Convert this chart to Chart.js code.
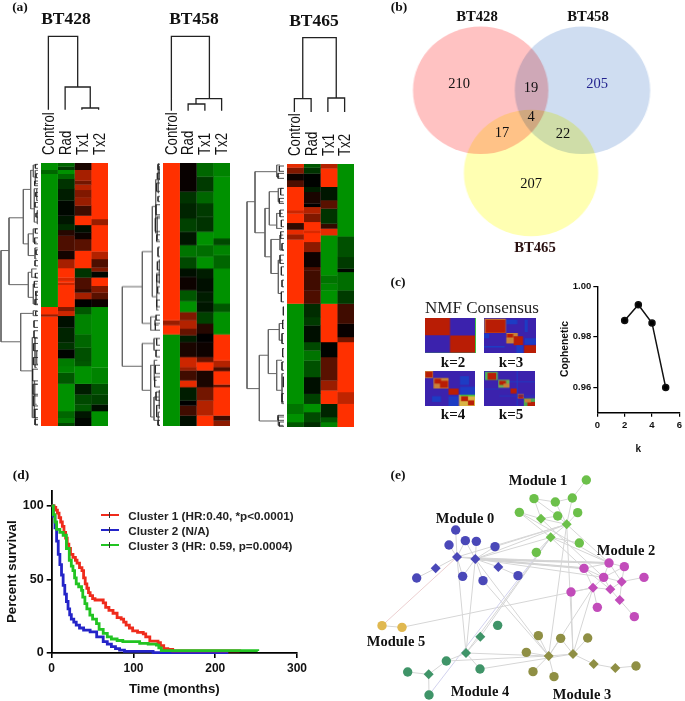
<!DOCTYPE html>
<html><head><meta charset="utf-8">
<script src="https://cdn.jsdelivr.net/npm/chart.js@4"></script>
<style>
html,body{margin:0;padding:0;background:#fff;overflow:hidden}
#page{position:relative;width:685px;height:701px;overflow:hidden;filter:blur(.35px)}
#page canvas{position:absolute;display:block}
.t{position:absolute;white-space:nowrap;transform:translate(-50%,-50%);line-height:1}
</style></head><body><div id="page"></div>
<script>
/* ---------- (a) heat map values, run-length: [row end, expression -1..1] ---------- */
const heatCols=['Control','Rad','Tx1','Tx2'];
const bt428Control=[[28,-1],[40,-.7],[438,-1],[460,1],[467,.6],[795,1]];
const bt428Rad=[[18,-.7],[28,-.4],[40,-1],[55,-.7],[85,-.35],[120,-.2],[165,-.05],[190,-.15],[208,-.3],[225,.15],[270,.3],[295,.08],[322,.65],[350,1],[360,.85],[365,1],[372,.8],[438,1],[450,.5],[465,.8],[500,-.1],[545,-.25],[565,-.35],[592,-.02],[615,-.85],[635,-.9],[668,-.6],[750,-1],[770,-.7],[785,-.85],[795,-.5]];
const bt428Tx1=[[28,.1],[60,.65],[72,.45],[88,.7],[110,.5],[135,.6],[165,.25],[193,1],[215,-.1],[235,.05],[270,.35],[322,1],[350,-.35],[385,.3],[395,.2],[415,.65],[438,0],[460,-.6],[520,-.9],[560,-.7],[600,-.55],[615,-.6],[668,-1],[700,-.2],[730,-.5],[750,-.6],[770,-.15],[795,-.05]];
const bt428Tx2=[[175,1],[193,.6],[272,1],[295,.7],[320,.3],[332,.5],[350,-.05],[375,1],[395,.5],[415,.35],[438,.05],[620,-1],[668,-.9],[700,-.55],[730,-.45],[750,-.1],[795,-1]];
const bt458Control=[[480,1],[495,.6],[522,1],[797,-1]];
const bt458Rad=[[95,.03],[130,-.35],[175,-.25],[215,-.45],[255,-.15],[290,-.8],[325,-.5],[350,-.1],[390,.05],[423,-.6],[455,-1],[480,.5],[505,.7],[525,.4],[545,-.2],[590,.1],[620,.8],[630,.6],[660,.25],[680,.9],[720,-.2],[735,0],[765,.25],[797,-.1]];
const bt458Tx1=[[50,-.7],[95,-.4],[130,-.7],[170,-.4],[215,-.35],[255,-1],[290,-.75],[325,-1],[355,-.2],[395,-.1],[425,-.2],[455,-.15],[490,-.45],[520,.15],[545,0],[590,.05],[605,.4],[630,1],[680,.1],[720,.45],[765,.7],[797,1]];
const bt458Tx2=[[50,-.9],[235,-1],[255,-.5],[285,-.9],[325,-.7],[430,-1],[455,-.6],[522,-1],[600,1],[620,.7],[632,.3],[672,1],[680,.4],[765,1],[780,.25],[797,.55]];
const bt465Control=[[22,.9],[40,.5],[60,.05],[80,.3],[150,1],[160,.8],[188,1],[208,.2],[222,.9],[238,.6],[430,1],[730,-1],[760,-.8],[785,-1],[800,-.6]];
const bt465Rad=[[22,-.6],[40,-.35],[80,-.02],[95,-.2],[130,.1],[140,0],[160,.7],[185,.5],[210,1],[218,.85],[245,1],[275,.55],[320,.05],[330,.3],[390,.25],[430,.3],[470,-.3],[495,-.4],[545,-.1],[570,-.5],[600,-.8],[650,-.55],[700,-.1],[730,-.45],[755,-1],[785,-.5],[800,-.3]];
const bt465Tx1=[[25,.7],[80,1],[120,-.15],[145,.35],[190,-.35],[205,.2],[225,.9],[345,-1],[370,-.8],[390,-.9],[430,-1],[545,1],[590,-.02],[660,.35],[690,.6],[730,1],[770,-.25],[785,-.6],[800,-.9]];
const bt465Tx2=[[228,-1],[290,-.55],[325,-.4],[335,-.05],[390,-.75],[430,-.4],[490,.25],[530,.03],[545,.45],[695,1],[730,.75],[800,1]];

/* column dendrograms: [height, colA, colB, heightA, heightB] */
const colTree428=[[230,.5,2.25,10,78],[78,1.5,3,10,15],[15,2.5,3.5,10,10]];
const colTree458=[[230,.5,2.77,7,43],[43,1.97,3.5,27,7],[27,1.5,2.5,7,7]];
const colTree465=[[226,1,3,43,45],[43,.5,1.5,3,3],[45,2.5,3.5,3,3]];
/* row dendrograms: [merge, rowA, rowB, mergeA, mergeB] */
const rowTree428=[[3,270,543,27,62],[27,172,372,70,85],[70,87,250,92,85],[92,30,145,100,103],[100,14,50,110,106],[106,30,70,116,114],[103,85,185,110,112],[110,85,120,116,118],[112,150,190,118,116],[85,220,285,100,105],[100,205,245,112,110],[105,262,295,113,110],[85,335,410,95,100],[95,325,350,110,112],[100,370,430,112,108],[108,395,430,118,116],[62,458,630,100,97],[100,450,465,112,112],[97,530,770,105,103],[105,530,620,112,110],[110,570,610,118,116],[103,660,770,104,106],[104,670,730,112,110],[106,745,790,112,114]];
const rowTree458=[[367,380,618,427,427],[427,275,490,457,452],[457,140,410,467,470],[467,60,220,475,472],[475,12,100,478,477],[478,20,60,482,484],[472,170,240,480,478],[470,340,450,478,476],[478,300,370,484,482],[452,470,510,465,465],[465,480,495,476,476],[427,550,690,462,452],[462,535,570,470,472],[452,615,770,463,462],[463,600,660,472,470],[462,710,780,478,475],[478,690,745,484,484],[475,755,795,482,482]];
const rowTree465=[[741,125,685,765,778],[765,35,218,830,795],[830,15,50,840,838],[795,145,290,808,813],[808,95,195,835,830],[813,238,340,840,835],[835,85,125,848,850],[830,160,205,848,846],[840,225,270,850,852],[835,300,400,848,846],[778,585,782,805,835],[805,508,640,838,830],[838,490,540,850,848],[830,600,690,846,848],[846,640,730,852,852],[835,770,795,852,850]];
/* fine leaf merges beside each heat map: [merge, rowA, rowB] */
const twigs428=[[106,12,24],[108,40,52],[104,62,76],[107,96,108],[105,126,140],[108,158,170],[106,205,218],[104,232,250],[108,268,282],[105,300,316],[106,338,352],[103,362,380],[107,392,404],[105,416,432],[107,452,464],[102,480,500],[102,510,532],[101,548,570],[100,590,612],[98,625,660],[99,670,700],[100,705,735],[103,745,770],[105,775,792]];
const twigs458=[[474,14,30],[472,40,58],[470,70,95],[474,110,125],[468,135,165],[466,175,215],[470,225,245],[474,262,290],[472,305,330],[470,345,365],[473,380,400],[470,420,440],[468,465,480],[466,490,510],[470,535,555],[468,570,590],[466,615,640],[464,650,680],[468,695,720],[470,735,770],[474,780,795]];
const twigs465=[[838,18,34],[834,40,55],[842,85,105],[838,115,130],[840,150,170],[844,180,200],[842,215,235],[846,250,270],[840,285,310],[844,320,345],[846,360,380],[844,395,425],[850,440,465],[848,480,505],[846,520,550],[848,565,590],[846,605,630],[850,650,680],[846,700,725],[834,765,780],[838,785,798]];

/* (b) Venn */
const vennSets=['BT428','BT458','BT465'];
const vennX=[71.2,167,118.6];
const vennY=[70.3,70.3,153];
const vennR=[63.7,63.7,63.2];
const vennCounts=['210','19','205','4','17','22','207'];

/* (c) NMF consensus blocks: [col0,col1,row0,row1,colour] */
const R='#b91d05',B='#3b22ad',D='#1d3cc4',T='#c8823a',G='#3fc43f',O='#d9b445';
const nmfK2=[[0,49,0,49,R],[49,98,50,99,R],[98,100,0,100,G],[0,100,99,100,G]];
const nmfK3=[[1,42,2,43,T],[3,41,5,42,R],[43,64,5,18,D],[78,84,5,40,D],[0,10,45,58,D],[43,65,43,72,T],[44,56,46,56,R],[57,75,52,78,R],[43,57,58,72,T],[78,100,58,76,D],[62,75,78,100,D],[0,40,80,84,D],[77,100,78,100,R]];
const nmfK4=[[0,16,0,20,T],[1,15,2,18,R],[17,47,20,50,T],[19,32,22,36,R],[30,46,28,48,R],[47,67,50,68,R],[70,88,15,40,D],[70,100,45,68,D],[14,32,72,88,D],[47,67,72,100,D],[68,100,68,100,O],[70,100,68,72,G],[72,86,72,86,R],[86,98,84,98,R]];
const nmfK5=[[2,27,2,26,'#4fb060'],[7,24,5,25,R],[28,50,25,48,'#6cae55'],[30,43,28,40,R],[38,50,36,47,T],[52,65,50,64,R],[66,78,66,78,T],[67,77,68,78,R],[78,100,78,100,'#4fa850'],[85,100,88,100,R],[80,92,80,90,T],[30,100,70,72,D],[50,100,30,32,D],[64,66,0,100,D],[0,30,50,52,D]];

/* (c) cophenetic */
const kValues=[2,3,4,5];
const cophenetic=[.9865,.9927,.9855,.96];

/* (d) survival, months vs percent */
const cluster1Months=[0,3,5,7,9,11,13,15,17,19,21,23,26,29,31,34,37,39,41,43,45,47,50,53,60,63,66,70,75,80,85,88,91,95,99,105,112,115,120,126,130,133,137,142,148,230];
const cluster1Survival=[100,99,97,95,92,89,86,82,78,74,71,67,65,63,61,58,56,51,47,44,41,39,37,36,36,34,31,29,27,24,23,21,19,17,15,14,13,11,8,8,7,5,3,2.5,1.5,.8];
const cluster2Months=[0,2,4,6,8,10,12,14,16,18,20,22,24,27,30,34,39,47,55,63,68,73,78,83,89,120,124,216];
const cluster2Survival=[100,93,85,76,67,60,53,46,40,35,30,26,23,21,19,17,15.5,14.4,11,7.7,6,4.3,3,2,1.1,1.1,.2,.2];
const cluster3Months=[0,2,4,6,10,14,18,21.5,24,26,28,30,33,36.5,38,40.6,43,46.7,50,54.8,58,63,68,73,80,87,107.6,118,128,131,134,252];
const cluster3Survival=[100,94,89,84,82,80,71,63,59,56,51,47,45,42.6,38,33.6,30,25.7,23,20,16,13.3,11,9.5,8.5,7.7,6.5,6,5.4,3.5,1.6,1.4];

/* (e) network layout: module nodes [x,y] */
const module0=[[302,210],[282,255],[331,242],[364,244],[420,260],[185,354],[323,349],[384,362],[489,347]];
const module0Hubs=[[306,291],[361,297],[242,325],[430,321]];
const module1=[[694,60],[537,116],[601,126],[652,114],[493,157],[608,168],[668,158],[673,249],[544,277]];
const module1Hubs=[[558,176],[635,193],[587,232]];
const module2=[[762,309],[808,320],[687,325],[746,352],[867,352],[648,396],[727,442],[838,470]];
const module2Hubs=[[800,365],[714,383],[766,388],[794,420]];
const module3=[[550,527],[617,535],[698,534],[514,577],[534,635],[597,650],[843,618]];
const module3Hubs=[[581,588],[654,582],[716,612],[781,624]];
const module4=[[428,496],[274,603],[375,627],[158,636],[222,705]];
const module4Hubs=[[376,530],[333,579],[221,643]];
const module5=[[81,497],[141,502]];
/* edges as [from module, node, to module, node]; hubs continue the node numbering */
const networkEdges=[[0,9,0,0],[0,9,0,1],[0,9,0,2],[0,9,0,6],[0,10,0,3],[0,10,0,2],[0,10,0,4],[0,10,0,7],[0,10,0,6],[0,9,0,11],[0,11,0,5],[0,10,0,12],[0,12,0,8],[0,9,0,10],
[1,3,1,0],[1,1,1,2],[1,2,1,3],[1,1,1,9],[1,4,1,9],[1,2,1,10],[1,5,1,10],[1,3,1,10],[1,6,1,10],[1,9,1,10],[1,5,1,9],[1,4,1,11],[1,11,1,10],[1,11,1,7],[1,11,1,8],[1,1,1,5],
[0,10,1,10],[0,9,1,10],[0,10,1,11],[0,4,1,10],[0,10,2,0],[0,10,2,2],[0,10,2,3],[0,9,2,0],[1,4,2,0],[1,11,2,0],[1,10,2,0],[1,11,2,2],[1,9,2,3],
[2,0,2,1],[2,0,2,2],[2,0,2,3],[2,0,2,8],[2,1,2,8],[2,1,2,3],[2,2,2,3],[2,2,2,9],[2,3,2,8],[2,3,2,10],[2,3,2,9],[2,8,2,4],[2,8,2,10],[2,9,2,10],[2,9,2,5],[2,9,2,6],[2,10,2,11],[2,11,2,7],[2,8,2,11],[2,10,2,2],
[3,7,3,0],[3,7,3,1],[3,7,3,3],[3,7,3,4],[3,7,3,5],[3,8,3,1],[3,8,3,2],[3,7,3,8],[3,8,3,9],[3,9,3,10],[3,10,3,6],
[3,7,0,10],[3,7,0,7],[3,8,1,10],[3,7,1,10],[3,8,2,9],[3,7,2,9],[3,8,2,5],
[4,6,0,9],[4,6,0,10],[4,6,1,11],[4,5,1,11],[4,6,4,1],[4,6,4,2],[4,7,4,1],[4,7,4,3],[4,7,4,4],[4,6,4,5],[4,6,3,7],[3,7,4,1],[3,8,4,2],[4,4,1,11],[5,0,5,1],[5,0,0,9],[5,1,2,9]];
const heavyEdges=[[0,10,2,0],[0,10,2,2]];

/* text */
const serif='"Liberation Serif",serif', sans='"Liberation Sans",Arial,sans-serif';
const labels=[
['(a)',20,7,'bold 13.5px '+serif],['(b)',399,7,'bold 13.5px '+serif],['(c)',398,282,'bold 13.5px '+serif],['(d)',21,475,'bold 13.5px '+serif],['(e)',398,475,'bold 13.5px '+serif],
['BT428',66,19,'bold 17.5px '+serif],['BT458',194,19,'bold 17.5px '+serif],['BT465',314,21,'bold 17.5px '+serif],
['BT428',477,16,'bold 14.7px '+serif],['BT458',588,16,'bold 14.7px '+serif],['BT465',535,247,'bold 14.7px '+serif,'#2a1010'],
[vennCounts[0],459,83,'14.5px '+serif],[vennCounts[1],531,87,'14.5px '+serif],[vennCounts[2],597,83,'14.5px '+serif,'#23238f'],[vennCounts[3],531,116,'14.5px '+serif],[vennCounts[4],502,132,'14.5px '+serif],[vennCounts[5],563,133,'14.5px '+serif],[vennCounts[6],531,183,'14.5px '+serif],
['NMF Consensus',482,307,'17px '+serif,'#222'],['k=2',453,362,'bold 15px '+serif],['k=3',511,362,'bold 15px '+serif],['k=4',453,414,'bold 15px '+serif],['k=5',511,414,'bold 15px '+serif],
['Module 1',538,480,'bold 14.5px '+serif],['Module 0',465,518,'bold 14.5px '+serif],['Module 2',626,550,'bold 14.5px '+serif],['Module 5',396,641,'bold 14.5px '+serif],['Module 4',480,691,'bold 14.5px '+serif],['Module 3',582,694,'bold 14.5px '+serif]
];
const legendNames=['Cluster 1 (HR:0.40, *p<0.0001)','Cluster 2 (N/A)','Cluster 3 (HR: 0.59, p=0.0004)'];
const legendColors=['#ef2b1c','#2424c8','#22c422'];

/* ---------- helpers ---------- */
const page=document.getElementById('page');
function canvas(left,top,w,h){const c=document.createElement('canvas');c.width=w;c.height=h;c.style.left=left+'px';c.style.top=top+'px';c.style.width=w+'px';c.style.height=h+'px';page.appendChild(c);return c;}
const noUi={legend:{display:false},tooltip:{enabled:false},title:{display:false}};
function base(scales,extra,pad){return Object.assign({responsive:false,animation:false,events:[],devicePixelRatio:1,layout:{autoPadding:false,padding:pad||0},plugins:noUi,scales},extra||{});}
function hidden(min,max,reverse){return {type:'linear',display:false,min,max,reverse:!!reverse};}
function heatColor(v){return v>=0?`rgb(${Math.round(255*v)},${Math.round(48*v)},0)`:`rgb(0,${Math.round(145*-v)},0)`;}

function heatChart(left,top,w,h,y0,y1,cols,labelShift){
  const datasets=[];
  cols.forEach((col,i)=>{let s=y0;col.forEach(([e,v])=>{const d=[null,null,null,null];d[i]=[s,Math.min(e+1,y1)];datasets.push({data:d,backgroundColor:heatColor(v),borderWidth:0});s=e;});});
  new Chart(canvas(left,top,w,h),{type:'bar',data:{labels:heatCols,datasets},options:base({
    x:{type:'category',display:false,stacked:false},
    y:hidden(y0,y1,true)},{grouped:false,barPercentage:1.02,categoryPercentage:1})});
  heatCols.forEach((n,i)=>labels.push([n,left+w*(i+.5)/4+labelShift,top-8,'17px '+sans,'#111','col']));
}
function lineDs(points,color,width){return {data:points,showLine:true,borderColor:color,borderWidth:width,pointRadius:0,tension:0,clip:false,fill:false};}
function colTreeChart(left,top,w,h,tree){
  const datasets=tree.map(([m,a,b,ha,hb])=>lineDs([{x:a,y:ha},{x:a,y:m},{x:b,y:m},{x:b,y:hb}],'#222',1.3));
  new Chart(canvas(left,top,w,h),{type:'scatter',data:{datasets},options:base({x:hidden(0,4),y:hidden(0,240)})});
}
function rowTreeChart(left,top,w,h,x0,x1,y0,y1,tree,twigs){
  const datasets=twigs.map(([m,a,b])=>lineDs([{x:x1,y:a},{x:m,y:a},{x:m,y:b},{x:x1,y:b}],'#222',.8))
    .concat(tree.map(([m,a,b,ma,mb])=>lineDs([{x:ma,y:a},{x:m,y:a},{x:m,y:b},{x:mb,y:b}],'#666',1)));
  new Chart(canvas(left,top,w,h),{type:'scatter',data:{datasets},options:base({x:hidden(x0,x1),y:hidden(y0,y1,true)})});
}
function nmfChart(left,top,w,h,blocks){
  const all=[[0,100,0,100,B]].concat(blocks).reverse();
  const datasets=all.map(([a,b,c,d,col])=>({data:[{x:a,y:c},{x:b,y:c},{x:b,y:d},{x:a,y:d}],showLine:true,borderWidth:0,borderColor:col,backgroundColor:col,pointRadius:0,fill:'shape',tension:0}));
  new Chart(canvas(left,top,w,h),{type:'scatter',data:{datasets},options:base({x:hidden(0,100),y:hidden(0,100,true)})});
}
function pairs(xs,ys){return xs.map((x,i)=>({x,y:ys[i]}));}

/* ---------- (a) ---------- */
heatChart(41,162.7,67,263,8,795,[bt428Control,bt428Rad,bt428Tx1,bt428Tx2],-1);
heatChart(162.7,163.3,67,262.5,10,797,[bt458Control,bt458Rad,bt458Tx1,bt458Tx2],-.5);
heatChart(287.3,164,67,263,12,800,[bt465Control,bt465Rad,bt465Tx1,bt465Tx2],-1.5);
colTreeChart(40,33.3,67,80,colTree428);
colTreeChart(162.5,33.3,67,80,colTree458);
colTreeChart(286,33.3,67,80,colTree465);
rowTreeChart(0,162.7,38,263,0,114,8,795,rowTree428,twigs428);
rowTreeChart(120,163.3,40,262.5,360,480,10,797,rowTree458,twigs458);
rowTreeChart(245,164,39,263,735,852,12,800,rowTree465,twigs465);

/* ---------- (b) ---------- */
const vennColors=['rgb(255,194,194)','rgb(207,221,241)','rgb(255,255,178)'];
const vc=canvas(405,20,240,225);vc.style.transformOrigin='0 0';vc.style.transform='scaleX(1.0625)';
new Chart(vc,{type:'bubble',data:{datasets:vennSets.map((n,i)=>({label:n,data:[{x:vennX[i],y:vennY[i],r:vennR[i]}],backgroundColor:vennColors[i],borderWidth:0,clip:false,order:2-i}))},
 options:base({x:hidden(0,240),y:hidden(0,225,true)}),
 plugins:[{id:'mult',beforeDatasetsDraw(c){c.ctx.globalCompositeOperation='multiply';},afterDatasetsDraw(c){c.ctx.globalCompositeOperation='source-over';}}]});

/* ---------- (c) ---------- */
nmfChart(425,318.3,50.7,35,nmfK2);
nmfChart(484.3,318.3,51.4,35,nmfK3);
nmfChart(425,371,49.5,34.7,nmfK4);
nmfChart(484.3,371,50.7,34.7,nmfK5);

const boldSans=s=>({family:sans,size:s,weight:'bold'});
new Chart(canvas(555,276,130,182),{type:'scatter',data:{datasets:[{data:pairs(kValues,cophenetic),showLine:true,borderColor:'#111',borderWidth:1.5,backgroundColor:'#000',pointRadius:3,tension:0}]},
 options:base({
  x:{type:'linear',min:0,max:6,grid:{drawOnChartArea:false,tickLength:4,color:'#000',lineWidth:1.2},border:{color:'#000',width:1.4},
     ticks:{stepSize:2,color:'#111',font:boldSans(9.5),padding:3},afterFit:s=>{s.height=45.3;},
     title:{display:true,text:'k',color:'#111',font:boldSans(10),padding:{top:0,bottom:3}}},
  y:{type:'linear',min:.95,max:1,grid:{drawOnChartArea:false,tickLength:4,color:'#000',lineWidth:1.2},border:{color:'#000',width:1.4},
     afterBuildTicks:s=>{s.ticks=[.96,.98,1].map(v=>({value:v}));},
     ticks:{color:'#111',font:boldSans(9.5),padding:2,callback:v=>v.toFixed(2)},afterFit:s=>{s.width=42.3;},
     title:{display:false}}
 },{},{top:10.3,right:3.3,left:0,bottom:0})});
labels.push(['Cophenetic',565,349,'bold 10.3px '+sans,'#111','rot']);

/* ---------- (d) ---------- */
const kmDs=(xs,ys,c,o)=>({data:pairs(xs,ys),showLine:true,stepped:true,borderColor:c,borderWidth:2.8,pointRadius:0,clip:false,order:o});
new Chart(canvas(0,480,310,221),{type:'scatter',data:{datasets:[kmDs(cluster1Months,cluster1Survival,legendColors[0],1),kmDs(cluster2Months,cluster2Survival,legendColors[1],2),kmDs(cluster3Months,cluster3Survival,legendColors[2],0)]},
 options:base({
  x:{type:'linear',min:0,max:300,grid:{drawOnChartArea:false,tickLength:5,color:'#000',lineWidth:1.6},border:{color:'#000',width:1.8},
     ticks:{stepSize:100,color:'#111',font:boldSans(12),padding:3},afterFit:s=>{s.height=48;},
     title:{display:true,text:'Time (months)',color:'#111',font:boldSans(13.2),padding:{top:0,bottom:4}}},
  y:{type:'linear',min:0,max:110.4,grid:{drawOnChartArea:false,tickLength:5,color:'#000',lineWidth:1.6},border:{color:'#000',width:1.8},
     afterBuildTicks:s=>{s.ticks=[0,50,100].map(v=>({value:v}));},
     ticks:{color:'#111',font:boldSans(12.5),padding:3},afterFit:s=>{s.width=51.7;},
     title:{display:true,text:'Percent survival',color:'#111',font:boldSans(13.3),padding:{top:4,bottom:0}}}
 },{},{top:10,right:12,left:0,bottom:0})});
legendNames.forEach((n,i)=>{
  const y=515+i*15;
  const l=document.createElement('div');l.style.cssText=`position:absolute;left:100.7px;top:${y-1.4}px;width:18px;height:2.8px;background:${legendColors[i]}`;page.appendChild(l);
  const k=document.createElement('div');k.style.cssText=`position:absolute;left:109px;top:${y-3}px;width:1px;height:6px;background:#333`;page.appendChild(k);
  labels.push([n,128.3,y+.5,'bold 11.7px '+sans,'#222','left']);
});

/* ---------- (e) ---------- */
const modCircles=[module0,module1,module2,module3,module4,module5];
const modHubs=[module0Hubs,module1Hubs,module2Hubs,module3Hubs,module4Hubs,[]];
const modColors=['#4a48b8','#6cc04a','#c24cba','#8f8f44','#3f9468','#e0b850'];
const modNodes=modCircles.map((m,i)=>m.concat(modHubs[i]));
const edgeDs=networkEdges.map(([a,i,b,j])=>{
  const p=modNodes[a][i],q=modNodes[b][j];
  const col=(a===5&&b===0)?'#eccfd0':(a===4&&i===4)?'#d2d2ee':'#d6d6d6';
  return lineDs([{x:p[0],y:p[1]},{x:q[0],y:q[1]}],col,1);
});
const heavyDs=heavyEdges.map(([a,i,b,j])=>{
  const p=modNodes[a][i],q=modNodes[b][j];
  return lineDs([{x:p[0],y:p[1]},{x:q[0],y:q[1]}],'#cfcfcf',2);
});
const nodeDs=[];
modColors.forEach((c,i)=>{
  nodeDs.push({data:modCircles[i].map(p=>({x:p[0],y:p[1]})),backgroundColor:c,borderWidth:0,pointRadius:4.7,pointStyle:'circle',clip:false});
  if(modHubs[i].length)nodeDs.push({data:modHubs[i].map(p=>({x:p[0],y:p[1]})),backgroundColor:c,borderWidth:0,pointRadius:5,pointStyle:'rectRot',clip:false});
});
new Chart(canvas(355,460,330,241),{type:'scatter',data:{datasets:nodeDs.concat(edgeDs,heavyDs)},options:base({x:hidden(0,990),y:hidden(0,723,true)})});

/* ---------- text ---------- */
labels.forEach(([s,x,y,font,color,mode])=>{
  const d=document.createElement('div');d.className='t';d.textContent=s;d.style.left=x+'px';d.style.top=y+'px';d.style.font=font;d.style.lineHeight='1';d.style.color=color||'#111';
  if(mode==='rot')d.style.transform='translate(-50%,-50%) rotate(-90deg)';
  if(mode==='left')d.style.transform='translate(0,-50%)';
  if(mode==='col'){d.style.transformOrigin='0 50%';d.style.transform='translate(0,-50%) rotate(-90deg) scaleX(.78)';}
  page.appendChild(d);
});
</script></body></html>
